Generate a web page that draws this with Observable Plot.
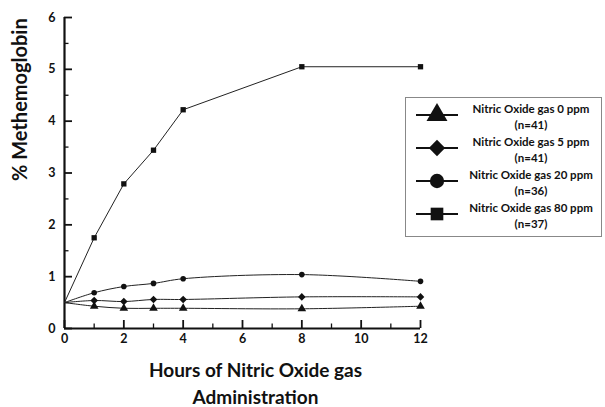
<!DOCTYPE html>
<html><head><meta charset="utf-8">
<script src="https://cdn.jsdelivr.net/npm/d3@7"></script>
<script src="https://cdn.jsdelivr.net/npm/@observablehq/plot@0.6"></script>
<style>
body{margin:0;background:#fff;font-family:Lato,"Open Sans",sans-serif;}
#wrap{position:relative;width:605px;height:407px;}
#legend{position:absolute;left:405px;top:97px;width:197px;height:140px;border:1px solid #888;box-sizing:border-box;background:#fff;}
.entry{position:absolute;left:0;width:197px;height:32px;}
.entry svg{position:absolute;left:8px;top:0px;}
.entry .lab{position:absolute;left:56px;width:138px;text-align:center;font-size:11.5px;font-weight:bold;line-height:16px;top:-1px;color:#111;}
</style></head>
<body><div id="wrap"><div id="chart"></div><div id="legend"></div></div>
<script>
const hours = [0, 1, 2, 3, 4, 8, 12];
const ppm0  = [0.5, 0.43, 0.39, 0.39, 0.39, 0.38, 0.43];
const ppm5  = [0.5, 0.54, 0.52, 0.56, 0.56, 0.61, 0.61];
const ppm20 = [0.5, 0.69, 0.81, 0.87, 0.96, 1.04, 0.91];
const ppm80 = [0.5, 1.75, 2.79, 3.44, 4.22, 5.05, 5.05];
const seriesNames = ["Nitric Oxide gas 0 ppm", "Nitric Oxide gas 5 ppm", "Nitric Oxide gas 20 ppm", "Nitric Oxide gas 80 ppm"];
const seriesN = ["(n=41)", "(n=41)", "(n=36)", "(n=37)"];
const seriesSymbols = ["triangle", "diamond2", "circle", "square"];
const xMajor = [0, 2, 4, 6, 8, 10, 12];
const xMinor = [1, 3, 5, 7, 9, 11];
const yMajor = [0, 1, 2, 3, 4, 5, 6];
const yMinor = [0.5, 1.5, 2.5, 3.5, 4.5, 5.5];
const xTitle = "Hours of Nitric Oxide gas\nAdministration";
const yTitle = "% Methemoglobin";

const allValues = [ppm0, ppm5, ppm20, ppm80];
const rows = [];
allValues.forEach((vals, s) => vals.forEach((v, i) => rows.push({series: seriesNames[s], symbol: seriesSymbols[s], hour: hours[i], value: v})));

const dotSize = {triangle: 3.2, diamond2: 3.4, circle: 2.8, square: 3.0};
const frameW = 605 - 64 - 185, frameH = 407 - 17 - 79;
// tick lengths (pixels) converted to data units
const yPerPx = 6 / frameH, xPerPx = 12 / frameW;

const chart = Plot.plot({
  width: 605, height: 407,
  marginLeft: 64, marginRight: 185, marginTop: 17, marginBottom: 79,
  style: {fontFamily: "Lato, 'Open Sans', sans-serif", fontWeight: "bold", fontSize: "12px", color: "#111", background: "#fff"},
  x: {domain: [0, 12]},
  y: {domain: [0, 6]},
  marks: [
    Plot.axisX(xMajor, {tickSize: 0, tickPadding: 6, label: null, fontSize: 12.5, fontWeight: "bold", tickFormat: d3.format("d")}),
    Plot.axisY(yMajor, {tickSize: 0, tickPadding: 9, label: null, fontSize: 12.5, fontWeight: "bold", tickFormat: d3.format("d")}),
    Plot.ruleX(xMajor, {x: d => d, y1: 0, y2: 8 * yPerPx, stroke: "#111", strokeWidth: 1.8}),
    Plot.ruleX(xMinor, {x: d => d, y1: 0, y2: 4.5 * yPerPx, stroke: "#111", strokeWidth: 1.3}),
    Plot.ruleY(yMajor, {y: d => d, x1: 0, x2: 8 * xPerPx, stroke: "#111", strokeWidth: 1.8}),
    Plot.ruleY(yMinor, {y: d => d, x1: 0, x2: 4.5 * xPerPx, stroke: "#111", strokeWidth: 1.3}),
    Plot.ruleX([0], {y1: 0, y2: 6, strokeWidth: 2.2, stroke: "#111"}),
    Plot.ruleY([0], {x1: 0, x2: 12, strokeWidth: 2.2, stroke: "#111"}),
    ...seriesNames.map((name, s) => Plot.line(rows.filter(r => r.series === name), {x: "hour", y: "value", stroke: "#222", strokeWidth: 1, curve: s < 3 ? "catmull-rom" : "linear"})),
    ...seriesSymbols.map(sym => Plot.dot(rows.filter(r => r.symbol === sym && r.hour > 0), {x: "hour", y: "value", symbol: sym, r: dotSize[sym], fill: "#111", stroke: "none"})),
    Plot.text([xTitle], {frameAnchor: "bottom", dx: 13, dy: 29, lineAnchor: "top", lineHeight: 1.42, fontSize: 19, fontWeight: "bold", fill: "#111"}),
    Plot.text([yTitle], {frameAnchor: "left", rotate: -90, dx: -44, dy: 8, fontSize: 20, fontWeight: "bold", fill: "#111"})
  ]
});
document.getElementById("chart").appendChild(chart);

const legend = document.getElementById("legend");
const legendSym = {triangle: d3.symbolTriangle, diamond2: d3.symbolDiamond2, circle: d3.symbolCircle, square: d3.symbolSquare};
const legendArea = {triangle: 190, diamond2: 170, circle: 160, square: 160};
seriesNames.forEach((name, s) => {
  const e = document.createElement("div");
  e.className = "entry";
  e.style.top = (4 + s * 33) + "px";
  const path = d3.symbol(legendSym[seriesSymbols[s]], legendArea[seriesSymbols[s]])();
  e.innerHTML = `<svg width="46" height="28"><line x1="2" x2="44" y1="13" y2="13" stroke="#111" stroke-width="2"/><path d="${path}" transform="translate(23,13)" fill="#111"/></svg>` +
    `<div class="lab">${name}<br>${seriesN[s]}</div>`;
  legend.appendChild(e);
});
</script></body></html>
